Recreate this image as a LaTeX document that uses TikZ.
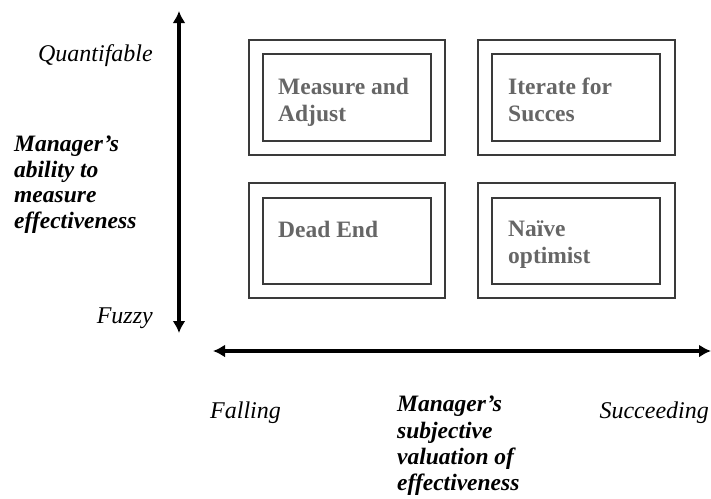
\documentclass[tikz,border=0pt]{standalone}
\usepackage{fontspec}
\setmainfont{Liberation Serif}
\usetikzlibrary{arrows.meta}
\definecolor{boxline}{HTML}{3A3A3A}
\definecolor{boxtext}{HTML}{666666}
\tikzset{
  outerbox/.style={draw=boxline, line width=1.3pt},
  innerbox/.style={draw=boxline, line width=1.3pt},
  quadtext/.style={anchor=north west, inner sep=0pt, align=left, text=boxtext,
    font=\fontsize{23.5}{27}\selectfont\bfseries},
  axistitle/.style={anchor=north west, inner sep=0pt, align=left,
    font=\fontsize{23.5}{25.5}\selectfont\bfseries\itshape},
  endlabel/.style={inner sep=0pt, font=\fontsize{24}{28}\selectfont\itshape},
  axis/.style={line width=3.6pt, {Latex[length=12pt,width=13pt]}-{Latex[length=12pt,width=13pt]}}
}
\begin{document}
\begin{tikzpicture}[x=1pt,y=-1pt]
\useasboundingbox (0,0) rectangle (711,498);

% four quadrants: outer frame with inner frame
\draw[outerbox] (249,40) rectangle (445,155);
\draw[innerbox] (263,54) rectangle (431,141);
\draw[outerbox] (478,40) rectangle (675,155);
\draw[innerbox] (492,54) rectangle (660,141);
\draw[outerbox] (249,183) rectangle (445,298);
\draw[innerbox] (263,198) rectangle (431,284);
\draw[outerbox] (478,183) rectangle (675,298);
\draw[innerbox] (492,198) rectangle (660,284);

\node[quadtext] (ma) at (278,78) {Measure and\\Adjust};
\node[quadtext] (it) at (508,78) {Iterate for\\Succes};
\node[quadtext] (de) at (278,221) {Dead End};
\node[quadtext] (no) at (508,221) {Naïve\\optimist};

% axes
\coordinate (vtop) at (179,11);
\coordinate (vbot) at (179,333);
\coordinate (hleft) at (213,351);
\coordinate (hright) at (711,351);
\draw[axis] (vbot) -- (vtop);
\draw[axis] (hleft) -- (hright);

% axis end labels
\node[endlabel, anchor=base east] (quant) at (153,61) {Quantifable};
\node[endlabel, anchor=base east] (fuzzy) at (153,323) {Fuzzy};
\node[endlabel, anchor=base west] (fall) at (210,418) {Falling};
\node[endlabel, anchor=base east] (succ) at (709,418) {Succeeding};

% axis titles
\node[axistitle] (vtitle) at (14,136) {Manager’s\\ability to\\measure\\effectiveness};
\node[axistitle, font=\fontsize{23.5}{26.3}\selectfont\bfseries\itshape] (htitle) at (397,396) {Manager’s\\subjective\\valuation of\\effectiveness};
\end{tikzpicture}
\end{document}
